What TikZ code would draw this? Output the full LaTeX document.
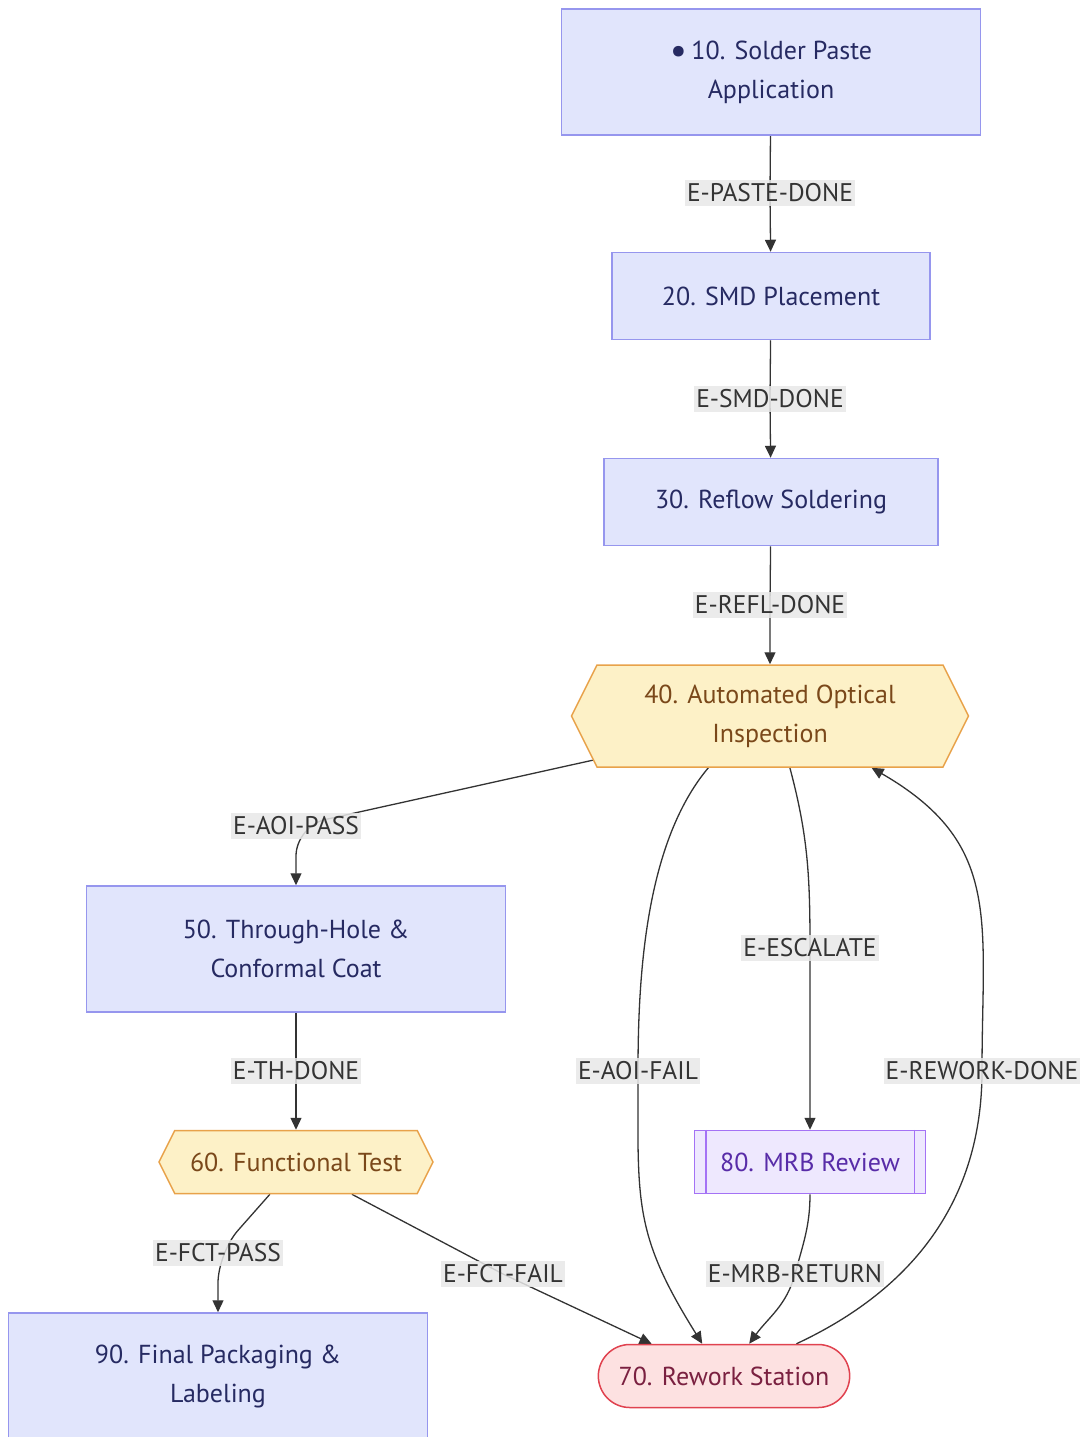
\documentclass[tikz,border=0pt]{standalone}
\usepackage{fontspec}
\setmainfont{PT Sans}
\usetikzlibrary{shapes.symbols, shapes.misc, arrows.meta, positioning}

\definecolor{boxfill}{RGB}{225, 229, 252}
\definecolor{boxline}{RGB}{150, 150, 238}
\definecolor{boxtext}{RGB}{38, 42, 98}
\definecolor{chkfill}{RGB}{253, 241, 199}
\definecolor{chkline}{RGB}{232, 162, 74}
\definecolor{chktext}{RGB}{122, 72, 26}
\definecolor{revfill}{RGB}{238, 232, 254}
\definecolor{revline}{RGB}{164, 114, 245}
\definecolor{revtext}{RGB}{88, 44, 168}
\definecolor{rwkfill}{RGB}{253, 225, 225}
\definecolor{rwkline}{RGB}{224, 66, 79}
\definecolor{rwktext}{RGB}{122, 32, 64}
\definecolor{lblbg}{RGB}{232, 232, 232}
\definecolor{edgecol}{RGB}{51, 51, 51}

\pgfdeclarelayer{edges}
\pgfsetlayers{edges,main}

\begin{document}
\begin{tikzpicture}[x=1pt, y=-1pt,
  every node/.style={font=\fontsize{26}{39}\selectfont},
  proc/.style={rectangle, draw=boxline, fill=boxfill, line width=1.5pt, text=boxtext, align=center, minimum height=87},
  check/.style={signal, signal to=east and west, signal pointer angle=126.87, draw=chkline, fill=chkfill, line width=1.5pt, text=chktext, align=center, inner xsep=2},
  review/.style={rectangle, draw=revline, fill=revfill, line width=1.5pt, text=revtext, minimum height=63},
  rework/.style={rounded rectangle, draw=rwkline, fill=rwkfill, line width=1.5pt, text=rwktext, minimum height=63},
  elabel/.style={fill=lblbg, fill opacity=0.85, text opacity=1, text=edgecol, inner xsep=2, inner ysep=4, font=\fontsize{25.5}{28}\selectfont},
  edge/.style={draw=edgecol, line width=1.3pt, -{Triangle[length=12pt, width=11pt]}}]

  \useasboundingbox (0,0) rectangle (1084,1437);

  % stations
  \node[proc, minimum width=419, minimum height=126] (n10) at (771,72) {\raisebox{-4pt}{\fontsize{38}{39}\selectfont •}\,10. Solder Paste\\Application};
  \node[proc, minimum width=318] (n20) at (771,296) {20. SMD Placement};
  \node[proc, minimum width=334] (n30) at (771,502) {30. Reflow Soldering};
  \node[check, minimum width=397, minimum height=102] (n40) at (770,716) {40. Automated Optical\\Inspection};
  \node[proc, minimum width=419, minimum height=126] (n50) at (296,949) {50. Through-Hole \&\\Conformal Coat};
  \node[check, minimum width=274, minimum height=63] (n60) at (296,1162) {60. Functional Test};
  \node[rework, minimum width=258] (n70) at (724,1376) {70. Rework Station};
  \node[review, minimum width=231] (n80) at (810,1162) {80. MRB Review};
  \draw[revline, line width=1.5pt] ([xshift=12]n80.north west) -- ([xshift=12]n80.south west);
  \draw[revline, line width=1.5pt] ([xshift=-12]n80.north east) -- ([xshift=-12]n80.south east);
  \node[proc, minimum width=419, minimum height=126] (n90) at (218,1376) {90. Final Packaging \&\\Labeling};

  % edge labels
  \node[elabel] (lpaste) at (770,193) {E-PASTE-DONE};
  \node[elabel] (lsmd) at (770,399) {E-SMD-DONE};
  \node[elabel] (lrefl) at (770,605) {E-REFL-DONE};
  \node[elabel] (lpass) at (296,826) {E-AOI-PASS};
  \node[elabel] (lth) at (296,1071) {E-TH-DONE};
  \node[elabel] (lfail) at (638,1071) {E-AOI-FAIL};
  \node[elabel] (lesc) at (810,948) {E-ESCALATE};
  \node[elabel] (lrew) at (982,1071) {E-REWORK-DONE};
  \node[elabel] (lfpass) at (218,1253) {E-FCT-PASS};
  \node[elabel] (lffail) at (503,1274) {E-FCT-FAIL};
  \node[elabel] (lmrb) at (795,1274) {E-MRB-RETURN};

  % transitions
  \begin{pgfonlayer}{edges}
    \draw[edge] (n10) -- (lpaste.center) -- (n20);
    \draw[edge] (n20) -- (lsmd.center) -- (n30);
    \draw[edge] (n30) -- (lrefl.center) -- (n40);
    \draw[edge, rounded corners=30] (n40.194) -- (lpass.center) -- (n50.north);
    \draw[edge] (n50) -- (lth.center) -- (n60);
    \draw[edge] (n40.220) to[out=-130, in=90, looseness=0.8] (lfail.center) to[out=-90, in=122, looseness=1.2] (n70.124);
    \draw[edge] (n40.291) to[out=-75, in=90] (lesc.center) -- (n80.north);
    \draw[edge] (n80.south) to[out=-90, in=75] (lmrb.center) to[out=-105, in=54] (n70.52);
    \draw[edge] (n70.24) to[out=25, in=-90] (lrew.center) to[out=90, in=-30, looseness=1.2] (n40.333);
    \draw[edge, rounded corners=30] (n60.231) -- (lfpass.center) -- (n90.north);
    \draw[edge] (n60.330) -- (lffail.center) -- (n70.156);
  \end{pgfonlayer}
\end{tikzpicture}
\end{document}
